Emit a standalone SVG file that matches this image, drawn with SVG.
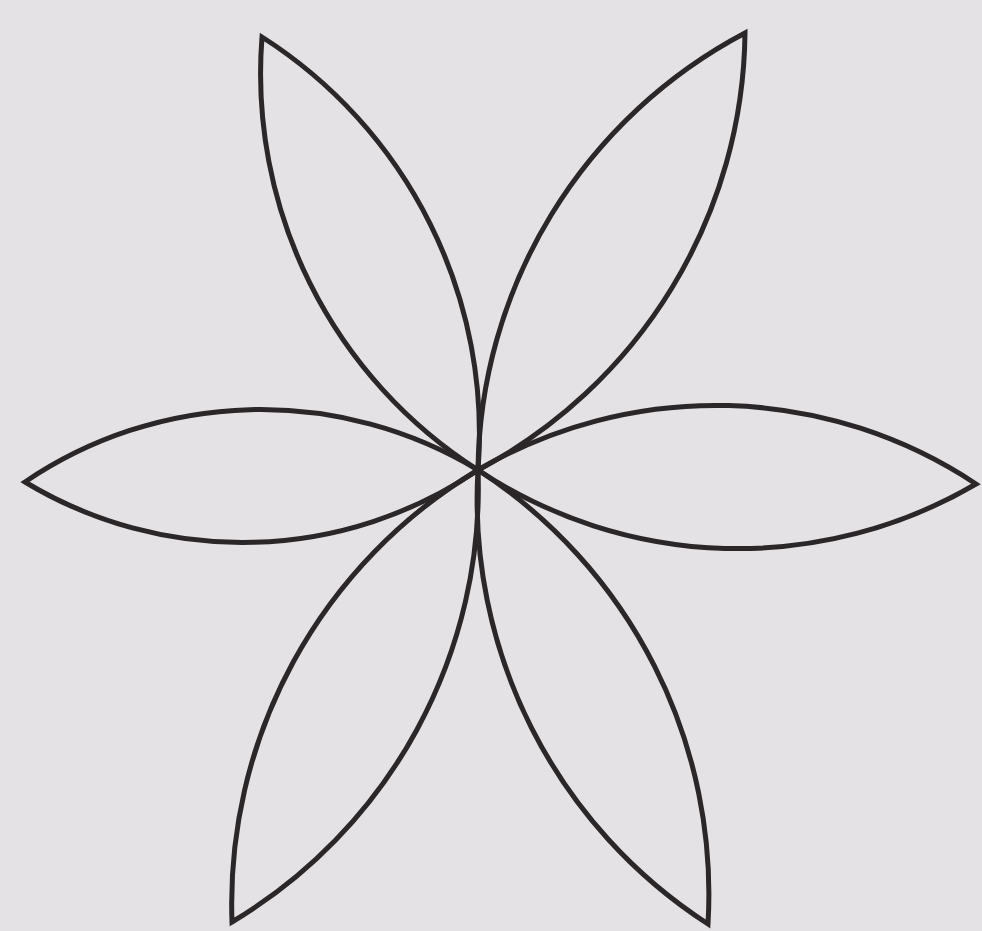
<svg xmlns="http://www.w3.org/2000/svg" width="982" height="931" viewBox="0 0 982 931">
<style>
.petal{fill:none;stroke:#2b2729;stroke-width:5;stroke-linejoin:miter}
</style>
<rect width="982" height="931" fill="#e4e2e5"/>
<g id="petal-top-left"><path class="petal" d="M478 470 A470 470 0 0 1 262 37 A470 470 0 0 1 478 470 Z"/></g>
<g id="petal-top-right"><path class="petal" d="M478 470 A500 500 0 0 1 745 33 A500 500 0 0 1 478 470 Z"/></g>
<g id="petal-right"><path class="petal" d="M478 470 A470 470 0 0 1 976 484 A470 470 0 0 1 478 470 Z"/></g>
<g id="petal-left"><path class="petal" d="M478 470 A420 420 0 0 1 25 482 A420 420 0 0 1 478 470 Z"/></g>
<g id="petal-bottom-left"><path class="petal" d="M478 470 A505 505 0 0 1 232 922 A505 505 0 0 1 478 470 Z"/></g>
<g id="petal-bottom-right"><path class="petal" d="M478 470 A505 505 0 0 1 708 924 A505 505 0 0 1 478 470 Z"/></g>
<g id="connectors"></g>
</svg>
